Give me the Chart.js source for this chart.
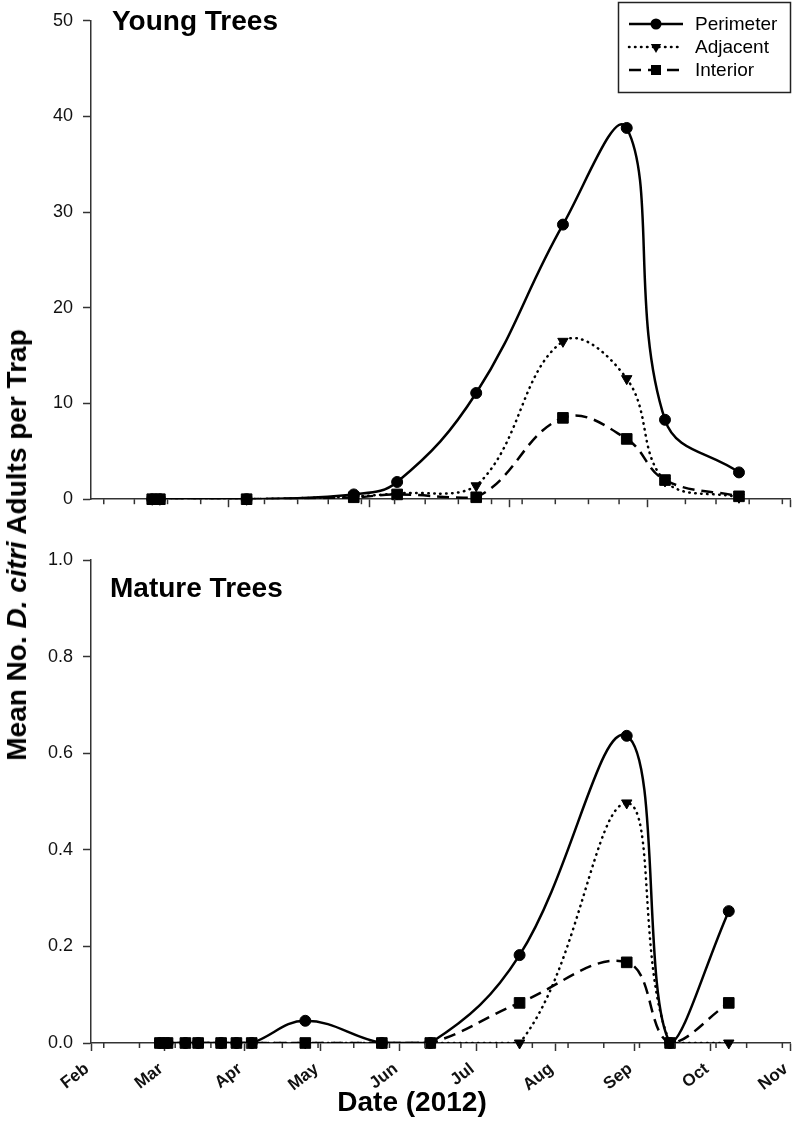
<!DOCTYPE html>
<html>
<head>
<meta charset="utf-8">
<script src="https://cdn.jsdelivr.net/npm/chart.js"></script>
<style>
  html, body { margin: 0; padding: 0; background: #fff; }
  body { width: 792px; height: 1140px; position: relative; overflow: hidden; font-family: "Liberation Sans", Arial, sans-serif; color: #000; }
  .painel { position: absolute; left: 0; width: 792px; }
  #painelTopo { top: 0; height: 520px; }
  #painelBase { top: 520px; height: 620px; }
  #tituloY { position: absolute; left: 17px; top: 545px; transform: translate(-50%, -50%) rotate(-90deg); white-space: nowrap; font-weight: bold; font-size: 28px; }
  #tituloX { position: absolute; left: 412px; top: 1102px; transform: translate(-50%, -50%); white-space: nowrap; font-weight: bold; font-size: 28px; }
</style>
</head>
<body>
<div class="painel" id="painelTopo"><canvas id="chartTopo" width="792" height="520"></canvas></div>
<div class="painel" id="painelBase"><canvas id="chartBase" width="792" height="620"></canvas></div>
<div id="tituloY">Mean No. <i>D. citri</i> Adults per Trap</div>
<div id="tituloX">Date (2012)</div>

<script>
//==============DADOS=================
// Young trees
const youngDates = ['2012-02-25', '2012-02-28', '2012-04-02', '2012-05-14', '2012-05-31',
  '2012-07-01', '2012-08-04', '2012-08-29', '2012-09-13', '2012-10-12'];
const youngPerimeter = [0, 0, 0, 0.5, 1.8, 11.1, 28.7, 38.8, 8.3, 2.8];
const youngAdjacent = [0, 0, 0, 0.3, 0.6, 1.4, 16.5, 12.6, 1.9, 0.2];
const youngInterior = [0, 0, 0, 0.2, 0.5, 0.2, 8.5, 6.3, 2.0, 0.3];

// Mature trees
const matureDates = ['2012-02-28', '2012-03-02', '2012-03-09', '2012-03-14', '2012-03-23',
  '2012-03-29', '2012-04-04', '2012-04-25', '2012-05-25', '2012-06-13', '2012-07-18',
  '2012-08-29', '2012-09-15', '2012-10-08'];
const maturePerimeter = [0, 0, 0, 0, 0, 0, 0, 0.046, 0, 0, 0.182, 0.636, 0, 0.273];
const matureAdjacent = [0, 0, 0, 0, 0, 0, 0, 0, 0, 0, 0, 0.497, 0, 0];
const matureInterior = [0, 0, 0, 0, 0, 0, 0, 0, 0, 0, 0.083, 0.167, 0, 0.083];

// Eixos
const monthLabels = ['Feb', 'Mar', 'Apr', 'May', 'Jun', 'Jul', 'Aug', 'Sep', 'Oct', 'Nov'];
const monthStarts = ['2012-02-01', '2012-03-01', '2012-04-01', '2012-05-01', '2012-06-01',
  '2012-07-01', '2012-08-01', '2012-09-01', '2012-10-01', '2012-11-01'];
const youngMajorTicks = [54, 109, 164, 218, 274];   // dias desde 1 Feb
const youngMinorTicks = [5, 17, 30, 43, 68, 81, 93, 106, 119, 131, 144, 157, 169, 182, 195, 207, 233, 245, 258, 271];
const matureMinorTicks = [5, 19, 33, 47, 61, 75, 89, 103, 117, 131, 145, 159, 173, 187, 201, 215, 229, 245, 257, 271];
const youngYTicks = [0, 10, 20, 30, 40, 50];
const matureYTicks = [0, 0.2, 0.4, 0.6, 0.8, 1.0];

//==============FUNCOES=================
function toDay(str) {
  const p = str.split('-').map(Number);
  return (Date.UTC(p[0], p[1] - 1, p[2]) - Date.UTC(2012, 1, 1)) / 864e5;
}

const estilos = [
  { label: 'Perimeter', dash: [], cap: 'butt', point: 'circle', radius: 5.5, rotation: 0 },
  { label: 'Adjacent', dash: [0.5, 5.5], cap: 'round', point: 'triangle', radius: 6, rotation: 180 },
  { label: 'Interior', dash: [12, 7], cap: 'butt', point: 'rect', radius: 7.5, rotation: 0 }
];

function montaDatasets(dates, series) {
  const days = dates.map(toDay);
  const sets = [];
  series.forEach((valores, i) => {
    const e = estilos[i];
    const pts = days.map((d, j) => ({ x: d, y: valores[j] }));
    sets.push({
      label: e.label, data: pts, borderColor: '#000', borderWidth: 2.5,
      borderDash: e.dash, borderCapStyle: e.cap, tension: 0.4, pointRadius: 0,
      clip: { left: 10, right: 10, top: 10, bottom: 0 }
    });
    sets.push({
      label: e.label + ' marks', data: pts, showLine: false, pointStyle: e.point,
      pointRadius: e.radius, pointRotation: e.rotation, pointBackgroundColor: '#000',
      pointBorderColor: '#000', pointBorderWidth: 1, clip: false
    });
  });
  return sets;
}

// desenha marcador simples para a legenda
function marcador(ctx, tipo, x, y) {
  ctx.beginPath();
  if (tipo === 'circle') {
    ctx.arc(x, y, 5.5, 0, Math.PI * 2);
  } else if (tipo === 'triangle') {
    ctx.moveTo(x - 5.2, y - 3); ctx.lineTo(x + 5.2, y - 3); ctx.lineTo(x, y + 6); ctx.closePath();
  } else {
    ctx.rect(x - 5, y - 5, 10, 10);
  }
  ctx.fill();
}

const minorTicks = {
  id: 'minorTicks',
  afterDraw(chart, args, opts) {
    const sx = chart.scales.x;
    const ctx = chart.ctx;
    const y0 = chart.chartArea.bottom;
    ctx.save();
    ctx.strokeStyle = '#333';
    ctx.lineWidth = 1.5;
    (opts.values || []).forEach(v => {
      const px = sx.getPixelForValue(v);
      ctx.beginPath();
      ctx.moveTo(px, y0);
      ctx.lineTo(px, y0 + 5);
      ctx.stroke();
    });
    ctx.restore();
  }
};

const panelLabel = {
  id: 'panelLabel',
  afterDraw(chart, args, opts) {
    const ctx = chart.ctx;
    ctx.save();
    ctx.fillStyle = '#000';
    ctx.font = 'bold 28px "Liberation Sans", Arial, sans-serif';
    ctx.textBaseline = 'alphabetic';
    ctx.fillText(opts.text, opts.x, opts.y);
    ctx.restore();
  }
};

const boxLegend = {
  id: 'boxLegend',
  afterDraw(chart, args, opts) {
    if (!opts.show) return;
    const ctx = chart.ctx;
    ctx.save();
    ctx.strokeStyle = '#222';
    ctx.lineWidth = 1.5;
    ctx.strokeRect(618.5, 2.5, 172, 90);
    ctx.font = '19px "Liberation Sans", Arial, sans-serif';
    ctx.textBaseline = 'middle';
    estilos.forEach((e, i) => {
      const y = 24 + i * 23;
      ctx.strokeStyle = '#000';
      ctx.lineWidth = 2.5;
      ctx.lineCap = e.cap;
      ctx.setLineDash(e.dash);
      ctx.beginPath();
      ctx.moveTo(629, y);
      ctx.lineTo(683, y);
      ctx.stroke();
      ctx.setLineDash([]);
      ctx.fillStyle = '#000';
      marcador(ctx, e.point, 656, y);
      ctx.fillText(e.label, 695, y + 1);
    });
    ctx.restore();
  }
};

Chart.defaults.font.family = '"Liberation Sans", Arial, sans-serif';
Chart.defaults.color = '#111';

function opcoes(cfg) {
  return {
    responsive: false,
    animation: false,
    events: [],
    layout: { autoPadding: false, padding: { top: cfg.padTop, right: 2, left: 0, bottom: 0 } },
    scales: {
      x: {
        type: 'linear', min: 0, max: 274,
        afterBuildTicks: s => { s.ticks = cfg.xTicks.map(v => ({ value: v })); },
        afterFit: s => { s.height = cfg.xHeight; s.paddingLeft = 0; s.paddingRight = 0; },
        ticks: {
          display: cfg.xLabels != null, autoSkip: false, minRotation: 38, maxRotation: 38,
          padding: 8, labelOffset: -4, font: { size: 17, weight: 'bold' }, color: '#111',
          callback: (v, i) => cfg.xLabels ? cfg.xLabels[i] : ''
        },
        grid: { drawOnChartArea: false, drawTicks: true, tickLength: 8, tickColor: '#333', tickWidth: 1.5 },
        border: { display: true, color: '#333', width: 1.5 }
      },
      y: {
        type: 'linear', min: cfg.yTicks[0], max: cfg.yTicks[cfg.yTicks.length - 1],
        afterBuildTicks: s => { s.ticks = cfg.yTicks.map(v => ({ value: v })); },
        afterFit: s => { s.width = 91; },
        ticks: { padding: 10, font: { size: 18 }, color: '#111', callback: cfg.yFmt },
        grid: { drawOnChartArea: false, drawTicks: true, tickLength: 8, tickColor: '#333', tickWidth: 1.5 },
        border: { display: true, color: '#333', width: 1.5 }
      }
    },
    plugins: {
      legend: { display: false },
      tooltip: { enabled: false },
      minorTicks: { values: cfg.minor },
      panelLabel: cfg.label,
      boxLegend: { show: cfg.legend }
    }
  };
}

//==============GRAFICOS=================
// Young Trees
new Chart(document.getElementById('chartTopo'), {
  type: 'line',
  data: { datasets: montaDatasets(youngDates, [youngPerimeter, youngAdjacent, youngInterior]) },
  options: opcoes({
    padTop: 12, xHeight: 20, xTicks: youngMajorTicks, xLabels: null, minor: youngMinorTicks,
    yTicks: youngYTicks, yFmt: v => String(v),
    label: { text: 'Young Trees', x: 112, y: 30 }, legend: true
  }),
  plugins: [minorTicks, panelLabel, boxLegend]
});

// Mature Trees
new Chart(document.getElementById('chartBase'), {
  type: 'line',
  data: { datasets: montaDatasets(matureDates, [maturePerimeter, matureAdjacent, matureInterior]) },
  options: opcoes({
    padTop: 40, xHeight: 97, xTicks: monthStarts.map(toDay), xLabels: monthLabels, minor: matureMinorTicks,
    yTicks: matureYTicks, yFmt: v => v.toFixed(1),
    label: { text: 'Mature Trees', x: 110, y: 77 }, legend: false
  }),
  plugins: [minorTicks, panelLabel, boxLegend]
});
</script>
</body>
</html>
